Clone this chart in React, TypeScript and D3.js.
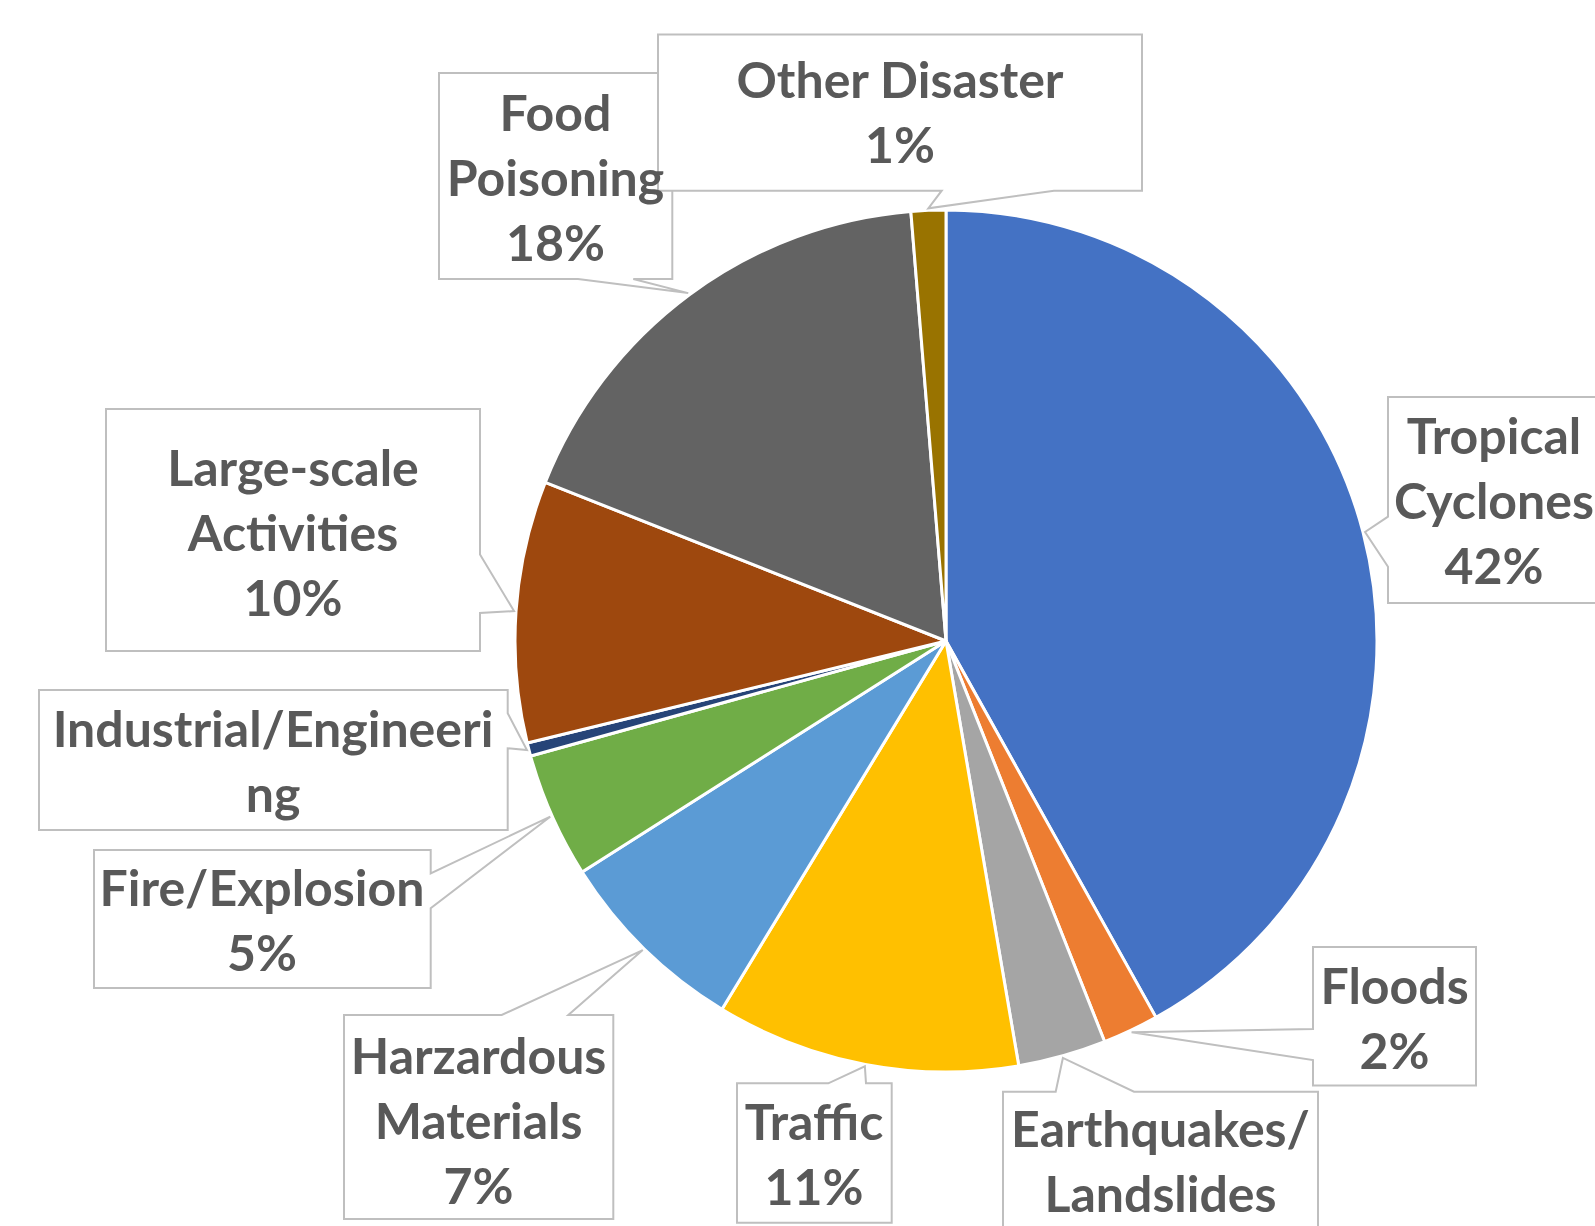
import React from "react";
import * as d3 from "d3";

const categories = [
  "Tropical Cyclones",
  "Floods",
  "Earthquakes/Landslides",
  "Traffic",
  "Harzardous Materials",
  "Fire/Explosion",
  "Industrial/Engineering",
  "Large-scale Activities",
  "Food Poisoning",
  "Other Disaster",
];
const values = [41.9, 2.1, 3.3, 11.4, 7.3, 4.7, 0.5, 9.8, 17.7, 1.3];
const colors = [
  "#4472C4",
  "#ED7D31",
  "#A5A5A5",
  "#FFC000",
  "#5B9BD5",
  "#70AD47",
  "#264478",
  "#9E480E",
  "#636363",
  "#997300",
];
const labelLines = [
  ["Tropical", "Cyclones"],
  ["Floods"],
  ["Earthquakes/", "Landslides"],
  ["Traffic"],
  ["Harzardous", "Materials"],
  ["Fire/Explosion"],
  ["Industrial/Engineeri", "ng"],
  ["Large-scale", "Activities"],
  ["Food", "Poisoning"],
  ["Other Disaster"],
];
const showPercent = [true, true, true, true, true, true, false, true, true, true];

// label box layout (positions only)
type Edge = "top" | "bottom" | "left" | "right";
const boxes: { x0: number; y0: number; x1: number; y1: number; edge: Edge; a: number; b: number; cx: number; base: number }[] = [
  { x0: 1388, y0: 397, x1: 1600, y1: 603, edge: "left", a: 516.7, b: 566.7, cx: 1494, base: 454 },
  { x0: 1313, y0: 947, x1: 1476, y1: 1085.5, edge: "left", a: 1029, b: 1060, cx: 1394.6, base: 1004 },
  { x0: 1003, y0: 1091.7, x1: 1318, y1: 1300, edge: "top", a: 1055.7, b: 1134, cx: 1160.5, base: 1147 },
  { x0: 737, y0: 1083.3, x1: 891.7, y1: 1222.7, edge: "top", a: 828.3, b: 866, cx: 814, base: 1140 },
  { x0: 344, y0: 1015, x1: 613.3, y1: 1219, edge: "top", a: 501.7, b: 568.3, cx: 478.6, base: 1074 },
  { x0: 94, y0: 850, x1: 430.7, y1: 988, edge: "right", a: 873.3, b: 908.3, cx: 262, base: 906 },
  { x0: 39, y0: 690, x1: 507.7, y1: 830, edge: "right", a: 713.3, b: 748.3, cx: 273, base: 747 },
  { x0: 106, y0: 409, x1: 480, y1: 651, edge: "right", a: 554.4, b: 613, cx: 293, base: 486 },
  { x0: 439, y0: 73, x1: 672.3, y1: 279, edge: "bottom", a: 578, b: 633.3, cx: 555.5, base: 131 },
  { x0: 658, y0: 34.6, x1: 1142, y1: 190.7, edge: "bottom", a: 941.7, b: 1054, cx: 900, base: 98 },
];

const W = 1595;
const H = 1226;
const CX = 946;
const CY = 641;
const R = 431;
const LINE = 65;

function calloutPath(bx: typeof boxes[number], tip: [number, number]) {
  const { x0, y0, x1, y1, edge, a, b } = bx;
  const p = d3.path();
  p.moveTo(x0, y0);
  if (edge === "top") {
    p.lineTo(a, y0);
    p.lineTo(tip[0], tip[1]);
    p.lineTo(b, y0);
  }
  p.lineTo(x1, y0);
  if (edge === "right") {
    p.lineTo(x1, a);
    p.lineTo(tip[0], tip[1]);
    p.lineTo(x1, b);
  }
  p.lineTo(x1, y1);
  if (edge === "bottom") {
    p.lineTo(b, y1);
    p.lineTo(tip[0], tip[1]);
    p.lineTo(a, y1);
  }
  p.lineTo(x0, y1);
  if (edge === "left") {
    p.lineTo(x0, b);
    p.lineTo(tip[0], tip[1]);
    p.lineTo(x0, a);
  }
  p.closePath();
  return p.toString();
}

export default function App() {
  const total = d3.sum(values);
  const pie = d3
    .pie<number>()
    .sort(null)
    .value((d) => d);
  const arcs = pie(values);
  const arc = d3.arc<d3.PieArcDatum<number>>().innerRadius(0).outerRadius(R);

  const tips = arcs.map((d) => {
    const m = (d.startAngle + d.endAngle) / 2;
    return [CX + (R + 2) * Math.sin(m), CY - (R + 2) * Math.cos(m)] as [number, number];
  });

  const fmt = (v: number) => `${Math.round((v / total) * 100)}%`;

  return (
    <svg
      width={W}
      height={H}
      style={{ position: "absolute", left: 0, top: 0, display: "block", background: "#fff" }}
      fontFamily="Lato, 'Open Sans', sans-serif"
    >
      <rect x={0} y={0} width={W} height={H} fill="#fff" />
      <g transform={`translate(${CX},${CY})`}>
        {arcs.map((d, i) => (
          <path key={categories[i]} d={arc(d) || ""} fill={colors[i]} stroke="#fff" strokeWidth={3} strokeLinejoin="round" />
        ))}
      </g>
      <g>
        {boxes.map((bx, i) => (
          <path key={"box" + i} d={calloutPath(bx, tips[i])} fill="#fff" stroke="#BFBFBF" strokeWidth={2} />
        ))}
      </g>
      <g fill="#595959" fontWeight={700} fontSize={50} textAnchor="middle">
        {boxes.map((bx, i) => {
          const lines = showPercent[i] ? [...labelLines[i], fmt(values[i])] : labelLines[i];
          return lines
            .map((l, j) => ({ l, y: bx.base + j * LINE }))
            .filter((o) => o.y - 36 < H)
            .map((o, j) => (
              <text key={"t" + i + "_" + j} x={bx.cx} y={o.y}>
                {o.l}
              </text>
            ));
        })}
      </g>
    </svg>
  );
}
